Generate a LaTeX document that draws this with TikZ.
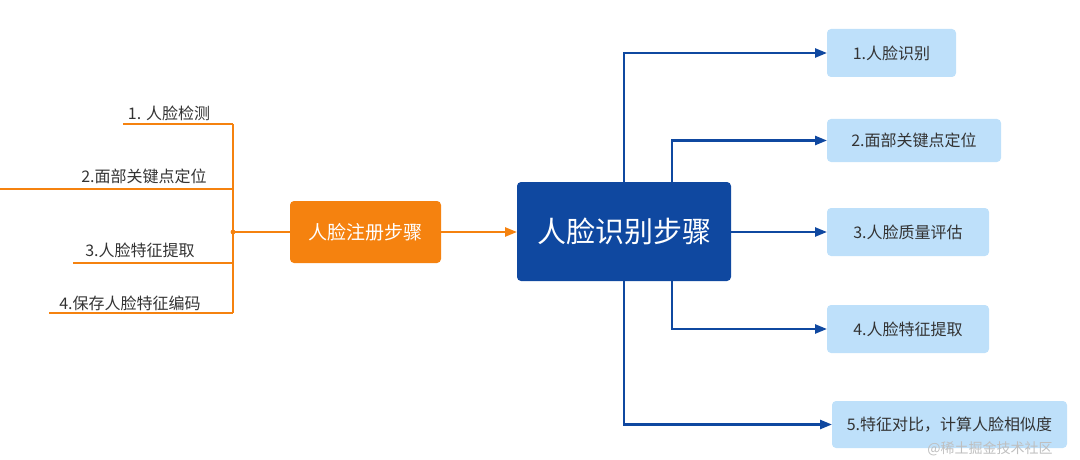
\documentclass[tikz,border=0pt]{standalone}
\usepackage{fontspec}
\setmainfont{Noto Sans CJK SC}
\usetikzlibrary{arrows.meta,calc}
\definecolor{og}{HTML}{F5820F}
\definecolor{bd}{HTML}{0F48A0}
\definecolor{bl}{HTML}{BEE0FA}
\definecolor{tx}{HTML}{333333}
\begin{document}
\begin{tikzpicture}[x=1pt,y=-1pt,
 oline/.style={draw=og,line width=2.4pt},
 bline/.style={draw=bd,line width=2.4pt,-{Triangle[length=12pt,width=9pt]}},
 lab/.style={text=tx,font=\fontsize{16}{18}\selectfont,inner sep=0},
 lbox/.style={fill=bl,rounded corners=4pt,text=tx,font=\fontsize{16}{18}\selectfont,anchor=north west,inner sep=0,outer sep=0},
]
\useasboundingbox (0,0) rectangle (1080,460);
% main boxes
\node[fill=og,rounded corners=4pt,anchor=north west,minimum width=151pt,minimum height=62pt,inner sep=0,outer sep=0,text=white,font=\fontsize{19}{21}\selectfont] (reg) at (290,201) {人脸注册步骤};
\node[fill=bd,rounded corners=4pt,anchor=north west,minimum width=214pt,minimum height=99pt,inner sep=0,outer sep=0,text=white,font=\fontsize{29}{32}\selectfont] (rec) at (517,182) {人脸识别步骤};
% left labels
\node[lab] (t1) at (169,113) {1. 人脸检测};
\node[lab] (t2) at (144,176) {2.面部关键点定位};
\node[lab] (t3) at (140,250) {3.人脸特征提取};
\node[lab] (t4) at (130,303) {4.保存人脸特征编码};
% left tree
\coordinate (l1) at (123,124);
\coordinate (l2) at (0,189);
\coordinate (l3) at (73,263);
\coordinate (l4) at (49,313);
\coordinate (j1) at (233,124);
\coordinate (j2) at (233,189);
\coordinate (j3) at (233,263);
\coordinate (j4) at (233,313);
\coordinate (jm) at (233,232);
\draw[oline] (l1) -- (j1);
\draw[oline] (l2) -- (j2);
\draw[oline] (l3) -- (j3);
\draw[oline] (l4) -- (j4);
\draw[oline] (j1) -- (j4);
\draw[oline] (jm) -- (jm -| reg.west);
\fill[og] (jm) circle (2.4pt);
\draw[draw=og,line width=2.4pt,-{Triangle[length=12pt,width=9pt]}] (reg.east) -- (reg.east -| rec.west);
% right boxes
\node[lbox,minimum width=129pt,minimum height=48pt] (b1) at (827,29) {1.人脸识别};
\node[lbox,minimum width=174pt,minimum height=43pt] (b2) at (827,119) {2.面部关键点定位};
\node[lbox,minimum width=162pt,minimum height=48pt] (b3) at (827,208) {3.人脸质量评估};
\node[lbox,minimum width=162pt,minimum height=48pt] (b4) at (827,305) {4.人脸特征提取};
\node[lbox,minimum width=235pt,minimum height=47pt] (b5) at (832,401) {5.特征对比，计算人脸相似度};
% right connectors
\draw[bline] ([xshift=107pt]rec.north west) |- (b1.west);
\draw[bline] ([xshift=155pt]rec.north west) |- (b2.west);
\draw[bline] (rec.east |- b3.west) -- (b3.west);
\draw[bline] ([xshift=155pt]rec.south west) |- (b4.west);
\draw[bline] ([xshift=107pt]rec.south west) |- (b5.west);
% watermark
\node[text=black!25,font=\fontsize{14}{16}\selectfont,inner sep=0] (wm) at (990,449) {@稀土掘金技术社区};
\end{tikzpicture}
\end{document}
